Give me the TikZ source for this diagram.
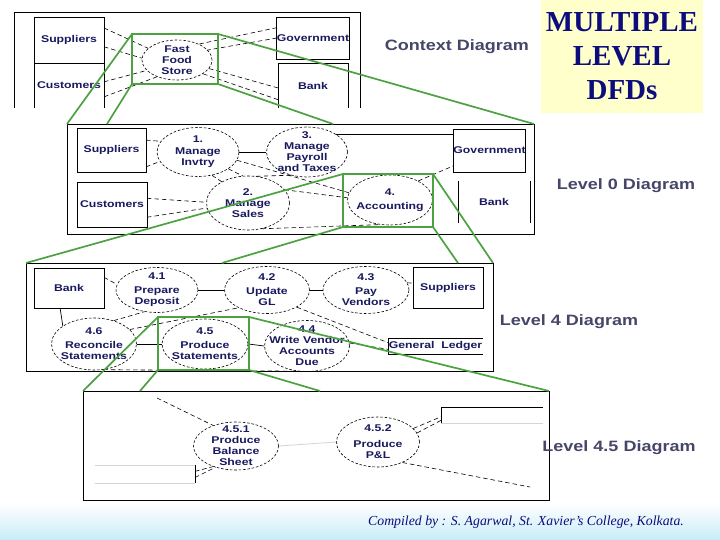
\documentclass[tikz,border=0pt]{standalone}
\usepackage{fontspec}
\usepackage{tikz}
\usetikzlibrary{shapes.geometric, positioning, calc}
\setmainfont{Liberation Serif}
\newfontfamily\lblfamily[FakeStretch=1.25]{Liberation Sans}
\newfontfamily\capfamily[FakeStretch=1.2]{Liberation Sans}
\newcommand\lblfont{\lblfamily\bfseries\fontsize{9.8bp}{11bp}\selectfont}
\newcommand\levelfont{\capfamily\bfseries\fontsize{15bp}{18bp}\selectfont}
\newcommand\titlefont{\bfseries\fontsize{29bp}{34bp}\selectfont}
\newcommand\creditfont{\itshape\fontsize{13.8bp}{15bp}\selectfont}
\definecolor{mynavy}{RGB}{25,25,95}
\definecolor{mytitle}{RGB}{12,12,125}
\definecolor{mylabel}{RGB}{70,70,105}
\definecolor{mygreen}{RGB}{76,162,64}
\definecolor{myyellow}{RGB}{255,255,204}
\definecolor{mycyan}{RGB}{200,236,248}
\definecolor{myfaint}{RGB}{212,212,212}
\tikzset{
  panel/.style={rectangle, draw=black, line width=0.9pt, outer sep=0pt},
  panelopen/.style={rectangle, draw=none, outer sep=0pt},
  boxline/.style={draw=black, line width=0.9pt},
  entity/.style={rectangle, draw=black, line width=0.9pt, outer sep=0pt,
    inner sep=0pt, font=\lblfont, text=mynavy},
  entityopen/.style={entity, draw=none},
  process/.style={ellipse, draw=black, line width=0.6pt, inner sep=0pt,
    dash pattern=on 2.6pt off 1.8pt},
  proctext/.style={font=\lblfont, text=mynavy, align=center, inner sep=0pt},
  flow/.style={line width=0.6pt, dash pattern=on 4.5pt off 3pt},
  solidflow/.style={line width=0.7pt},
  faintflow/.style={line width=0.8pt, draw=myfaint},
  zoombox/.style={rectangle, draw=mygreen, line width=2.4pt, outer sep=0pt},
  zoomline/.style={draw=mygreen, line width=1.7pt},
  levellabel/.style={font=\levelfont, text=mylabel}
}

\begin{document}
\begin{tikzpicture}[x=1bp, y=-1bp]
  \useasboundingbox (0,0) rectangle (720,540);
  \fill[white] (0,0) rectangle (720,540);
  \shade[top color=white, bottom color=mycyan] (0,503) rectangle (720,540);

  % Title
  \node[fill=myyellow, minimum width=162bp, minimum height=113bp, font=\titlefont,
    text=mytitle, align=center] (title) at (622,56.5) {MULTIPLE\\LEVEL\\DFDs};

  % Context diagram
  \node[panelopen, minimum width=346bp, minimum height=96bp] (ctx) at (187,60) {};
  \draw[boxline] (ctx.south west) |- (ctx.north east) -- (ctx.south east);
  \node[entity, minimum width=70bp, minimum height=46bp] (sup) at (69,40) {Suppliers};
  \node[entityopen, minimum width=70bp, minimum height=45bp] (cus) at (69,85.5) {Customers};
  \draw[boxline] (cus.south west) |- (cus.north east) -- (cus.south east);
  \node[entity, minimum width=70bp, minimum height=42bp] (gov) at (313,38) {Government};
  \node[entityopen, minimum width=70bp, minimum height=45bp] (bank) at (313,85.5) {Bank};
  \draw[boxline] (bank.south west) |- (bank.north east) -- (bank.south east);
  \node[process, minimum width=70bp, minimum height=40bp,
    label={[proctext]center:Fast\\Food\\Store}] (ffs) at (177,60) {};
  \draw[flow] (sup.19) -- (ffs.158);
  \draw[flow] (sup.-11) -- (ffs.177);
  \draw[flow] (cus.6) -- (ffs.199);
  \draw[flow] (cus.-18) -- (ffs.220);
  \draw[flow] (gov.164) -- (ffs.36);
  \draw[flow] (gov.180) -- (ffs.18);
  \draw[flow] (bank.184) -- (ffs.-15);
  \draw[flow] (bank.202) -- (ffs.-28);

  % Level 0
  \node[panel, minimum width=467bp, minimum height=110bp] (lev0) at (300.5,179) {};
  \node[entity, minimum width=69bp, minimum height=44bp] (sup0) at (111.5,150) {Suppliers};
  \node[entity, minimum width=70bp, minimum height=45bp] (cus0) at (112,204.5) {Customers};
  \node[entity, minimum width=71bp, minimum height=43bp] (gov0) at (489.5,150.5) {Government};
  \node[entityopen, minimum width=72bp, minimum height=42bp] (bank0) at (494,202) {Bank};
  \draw[boxline] (bank0.north west) -- (bank0.south west);
  \draw[boxline] (bank0.north east) -- (bank0.south east);
  \node[process, minimum width=82bp, minimum height=49bp,
    label={[proctext]center:1.\\[1bp]Manage\\Invtry}] (p1) at (198,152) {};
  \node[process, minimum width=81bp, minimum height=50bp,
    label={[proctext]center:3.\\Manage\\Payroll\\and Taxes}] (p3) at (307,152) {};
  \node[process, minimum width=83bp, minimum height=54bp,
    label={[proctext]center:2.\\Manage\\Sales}] (p2) at (248,203) {};
  \node[process, minimum width=85bp, minimum height=50bp,
    label={[proctext]center:4.\\[3bp]Accounting}] (p4) at (390,200) {};
  \draw[flow] (sup0.16) -- (p1.164);
  \draw[flow] (sup0.-26) -- (p1.194);
  \draw[solidflow] (p1.east) -- (p3.west);
  \draw[solidflow] (p3.32) -- (p3.32 -| gov0.west);
  \draw[flow] (cus0.10) -- (p2.179);
  \draw[flow] (cus0.-20) -- (p2.187);
  \draw[flow] (p1.-59) -- (p2.141);
  \draw[flow] (p1.-29) -- (p2.101);
  \draw[flow] (p3.235) -- (p2.72);
  \draw[flow] (p1.-12) -- (p4.170);
  \draw[flow] (p2.20) -- (p4.177);
  \draw[flow] (p2.-62) -- (p4.-112);
  \draw[flow] (p4.34) -- (gov0.203);

  % Level 4
  \node[panel, minimum width=467bp, minimum height=108bp] (lev4) at (259.5,317) {};
  \node[entity, minimum width=70bp, minimum height=40bp] (bank4) at (69,288) {Bank};
  \node[entity, minimum width=70bp, minimum height=41bp] (sup4) at (448,287.5) {Suppliers};
  \node[entityopen, minimum width=95bp, minimum height=16bp] (gl4) at (435.5,346) {General\ \ Ledger};
  \draw[boxline] (gl4.north east) -| (gl4.south west) -- (gl4.south east);
  \node[process, minimum width=82bp, minimum height=45bp,
    label={[proctext]center:4.1\\[3bp]Prepare\\Deposit}] (e41) at (157,290) {};
  \node[process, minimum width=85bp, minimum height=47bp,
    label={[proctext]center:4.2\\[3bp]Update\\GL}] (e42) at (267,290) {};
  \node[process, minimum width=86bp, minimum height=47bp,
    label={[proctext]center:4.3\\[3bp]Pay\\Vendors}] (e43) at (366,290) {};
  \node[process, minimum width=85bp, minimum height=52bp,
    label={[proctext]center:4.6\\[3bp]Reconcile\\Statements}] (e46) at (94,344) {};
  \node[process, minimum width=86bp, minimum height=50bp,
    label={[proctext]center:4.5\\[3bp]Produce\\Statements}] (e45) at (205,344) {};
  \node[process, minimum width=85bp, minimum height=51bp,
    label={[proctext]center:4.4\\Write Vendor\\Accounts\\Due}] (e44) at (307,346) {};
  \draw[flow] (bank4.17) -- (e41.172);
  \draw[solidflow] (bank4.246) -- (e46.150);
  \draw[solidflow] (e41.east) -- (e42.west);
  \draw[solidflow] (e42.east) -- (e43.west);
  \draw[flow] (e43.10) -- (sup4.173);
  \draw[flow] (e46.50) -- (e41.240);
  \draw[flow] (e46.22) -- (e42.212);
  \draw[solidflow] (e46.east) -- (e45.west);
  \draw[solidflow] (e45.east) -- (e44.west);
  \draw[flow] (e42.-30) -- (gl4.176);
  \draw[flow] (e44.4) -- (gl4.184);
  \draw[flow] (e46.-70) -- (e44.-110);

  % Level 4.5
  \node[panel, minimum width=466bp, minimum height=109bp] (lev45) at (316,445.5) {};
  \node[process, minimum width=85bp, minimum height=48bp,
    label={[proctext]center:4.5.1\\Produce\\Balance\\Sheet}] (e451) at (236,446) {};
  \node[process, minimum width=83bp, minimum height=50bp,
    label={[proctext]center:4.5.2\\[5bp]Produce\\P\&L}] (e452) at (378,442) {};
  \node[panelopen, minimum width=100bp, minimum height=18bp] (store1) at (145,474) {};
  \draw[faintflow] (store1.north west) -- (store1.north east);
  \draw[faintflow] (store1.south west) -- (store1.south east);
  \draw[boxline] (store1.north east) -- (store1.south east);
  \node[panelopen, minimum width=102bp, minimum height=16bp] (store2) at (492,415) {};
  \draw[faintflow] (store2.south west) -- (store2.south east);
  \draw[boxline] (store2.south west) |- (store2.north east);
  \coordinate (in451) at (157,398);
  \coordinate (out452) at (530,487);
  \draw[flow] (in451) -- (e451.138);
  \draw[flow] (store1.3) -- (e451.222);
  \draw[flow] (store1.-4) -- (e451.226);
  \draw[faintflow] (e451.east) -- (e452.west);
  \draw[flow] (e452.21) -- (store2.182);
  \draw[flow] (e452.13) -- (store2.186);
  \draw[flow] (e452.-40) -- (out452);

  % Zoom frames
  \node[zoombox, minimum width=86bp, minimum height=50bp] (zoomc) at (175,59) {};
  \node[zoombox, minimum width=90bp, minimum height=53bp] (zoom0) at (388,200.5) {};
  \node[zoombox, minimum width=91bp, minimum height=53bp] (zoom4) at (203.5,343.5) {};
  \coordinate (l0a) at (107,124);
  \coordinate (l0b) at (333,124);
  \coordinate (l4a) at (222,263);
  \coordinate (l4b) at (458,263);
  \coordinate (l45a) at (140,391);
  \coordinate (l45b) at (320,391);
  \draw[zoomline] (zoomc.north west) -- (lev0.north west);
  \draw[zoomline] (zoomc.south west) -- (l0a);
  \draw[zoomline] (zoomc.south east) -- (l0b);
  \draw[zoomline] (zoomc.north east) -- (lev0.north east);
  \draw[zoomline] (zoom0.north west) -- (lev4.north west);
  \draw[zoomline] (zoom0.south west) -- (l4a);
  \draw[zoomline] (zoom0.south east) -- (l4b);
  \draw[zoomline] (zoom0.north east) -- (lev4.north east);
  \draw[zoomline] (zoom4.north west) -- (lev45.north west);
  \draw[zoomline] (zoom4.south west) -- (l45a);
  \draw[zoomline] (zoom4.south east) -- (l45b);
  \draw[zoomline] (zoom4.north east) -- (lev45.north east);

  % Level captions
  \node[levellabel] (lblc) at (457,47) {Context Diagram};
  \node[levellabel] (lbl0) at (626,186) {Level 0 Diagram};
  \node[levellabel] (lbl4) at (569,322) {Level 4 Diagram};
  \node[levellabel] (lbl45) at (619,448) {Level 4.5 Diagram};
  \node[font=\creditfont, text=mytitle] (credit) at (526,522)
    {Compiled by : S. Agarwal, St. Xavier's College, Kolkata.};
\end{tikzpicture}
\end{document}
